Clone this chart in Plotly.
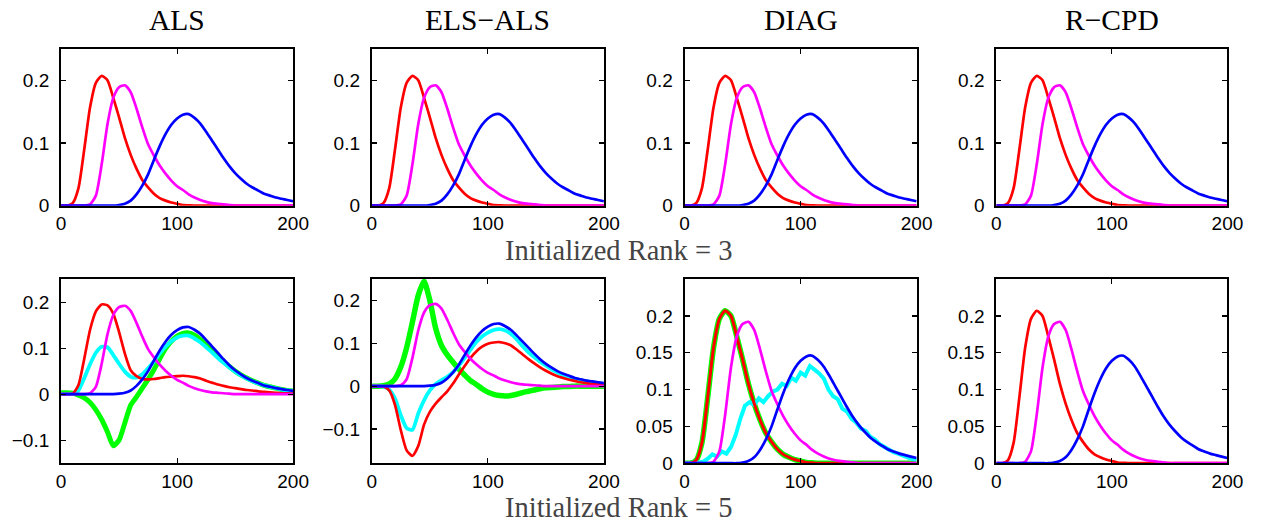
import plotly.graph_objects as go

# ---------------- data ----------------
XS = list(range(0, 201, 5))

# ground-truth profiles
RED_TRUE = [0, 0, 0.004, 0.028, 0.090, 0.157, 0.196, 0.207, 0.200, 0.172, 0.141,
            0.108, 0.081, 0.059, 0.041, 0.029, 0.019, 0.012, 0.008, 0.005, 0.003,
            0.001, 0.0005, 0, 0, 0, 0, 0, 0, 0, 0, 0, 0, 0, 0, 0, 0, 0, 0, 0, 0]
MAG_TRUE = [0, 0, 0, 0, 0, 0.002, 0.016, 0.066, 0.130, 0.172, 0.189, 0.192, 0.181,
            0.155, 0.125, 0.098, 0.080, 0.064, 0.051, 0.040, 0.031, 0.025, 0.018,
            0.013, 0.009, 0.006, 0.004, 0.003, 0.002, 0.001, 0, 0, 0, 0, 0, 0, 0,
            0, 0, 0, 0]
BLUE_TRUE = [0, 0, 0, 0, 0, 0, 0, 0, 0, 0, 0.001, 0.003, 0.008, 0.018, 0.032,
             0.050, 0.073, 0.095, 0.114, 0.129, 0.139, 0.145, 0.146, 0.140, 0.131,
             0.118, 0.104, 0.090, 0.076, 0.063, 0.052, 0.043, 0.035, 0.029, 0.024,
             0.019, 0.016, 0.013, 0.011, 0.009, 0.007]

# ALS, rank 5
RED_ALS5 = [0, 0, 0.001, 0.020, 0.077, 0.140, 0.180, 0.195, 0.193, 0.175, 0.135,
            0.088, 0.052, 0.039, 0.033, 0.032, 0.033, 0.035, 0.037, 0.038, 0.039,
            0.040, 0.039, 0.037, 0.034, 0.029, 0.025, 0.021, 0.018, 0.015, 0.013,
            0.011, 0.009, 0.008, 0.006, 0.005, 0.004, 0.003, 0.002, 0.002, 0.001]
CYAN_ALS5 = [0, 0, 0.001, 0.008, 0.035, 0.065, 0.090, 0.103, 0.102, 0.085, 0.066,
             0.049, 0.038, 0.036, 0.043, 0.056, 0.071, 0.088, 0.103, 0.115, 0.123,
             0.127, 0.127, 0.121, 0.113, 0.102, 0.091, 0.079, 0.068, 0.058, 0.049,
             0.041, 0.034, 0.028, 0.023, 0.019, 0.016, 0.013, 0.010, 0.008, 0.007]
GREEN_ALS5 = [0.003, 0.003, 0.002, -0.002, -0.008, -0.018, -0.034, -0.055, -0.082,
              -0.112, -0.100, -0.062, -0.024, -0.006, 0.013, 0.032, 0.053, 0.077,
              0.099, 0.115, 0.126, 0.132, 0.133, 0.128, 0.119, 0.107, 0.095, 0.083,
              0.071, 0.060, 0.050, 0.042, 0.035, 0.029, 0.024, 0.019, 0.016, 0.013,
              0.010, 0.008, 0.007]

# ELS-ALS, rank 5
GREEN_ELS5 = [0, 0, 0.001, 0.005, 0.017, 0.045, 0.090, 0.150, 0.212, 0.245, 0.200,
              0.135, 0.095, 0.073, 0.056, 0.040, 0.026, 0.013, 0.004, -0.006, -0.014,
              -0.019, -0.022, -0.023, -0.022, -0.019, -0.015, -0.012, -0.009, -0.006,
              -0.004, -0.003, -0.002, -0.001, -0.001, 0, 0, 0, 0, 0, 0]
CYAN_ELS5 = [0, 0, -0.001, -0.008, -0.029, -0.068, -0.098, -0.102, -0.064, -0.033,
             -0.010, 0.005, 0.014, 0.022, 0.033, 0.048, 0.066, 0.085, 0.103, 0.116,
             0.125, 0.131, 0.133, 0.130, 0.122, 0.109, 0.093, 0.079, 0.068, 0.057,
             0.048, 0.039, 0.032, 0.026, 0.021, 0.017, 0.014, 0.011, 0.009, 0.007,
             0.005]
RED_ELS5 = [0, 0, -0.001, -0.010, -0.044, -0.103, -0.150, -0.163, -0.140, -0.090,
            -0.060, -0.041, -0.026, -0.012, 0.006, 0.027, 0.047, 0.066, 0.081, 0.092,
            0.099, 0.102, 0.103, 0.100, 0.095, 0.085, 0.074, 0.063, 0.053, 0.044,
            0.036, 0.029, 0.023, 0.019, 0.015, 0.012, 0.009, 0.007, 0.005, 0.004,
            0.003]

# DIAG, rank 5: noisy cyan component
XS_NOISY = list(range(0, 201, 4))
CYAN_DIAG5 = [0, 0, 0, 0.001, 0.002, 0.006, 0.012, 0.009, 0.016, 0.013, 0.022,
              0.038, 0.060, 0.078, 0.083, 0.079, 0.088, 0.083, 0.091, 0.097, 0.100,
              0.108, 0.105, 0.116, 0.112, 0.123, 0.119, 0.132, 0.127, 0.122, 0.115,
              0.100, 0.091, 0.087, 0.074, 0.070, 0.060, 0.055, 0.047, 0.044, 0.036,
              0.032, 0.026, 0.022, 0.019, 0.015, 0.013, 0.010, 0.008, 0.006, 0.004]

METHODS = ["ALS", "ELS\u2212ALS", "DIAG", "R\u2212CPD"]
ROW_LABELS = ["Initialized Rank = 3", "Initialized Rank = 5"]
X_TICKS = [0, 100, 200]
Y_TICKS_TOP = [0, 0.1, 0.2]
Y_TEXT_TOP = ["0", "0.1", "0.2"]
Y_TICKS_NEG = [-0.1, 0, 0.1, 0.2]
Y_TEXT_NEG = ["\u22120.1", "0", "0.1", "0.2"]
Y_TICKS_FINE = [0, 0.05, 0.1, 0.15, 0.2]
Y_TEXT_FINE = ["0", "0.05", "0.1", "0.15", "0.2"]

# ---------------- styling ----------------
RED, MAG, BLUE, CYAN, GREEN = "#ff0000", "#ff00ff", "#0000ff", "#00ffff", "#00ff00"
W, H = 1268, 531
COL_PX = [(57, 293), (373, 609), (691, 927), (1008, 1243)]
ROW_PX = [(50, 210), (285, 473)]

fig = go.Figure()


def add(panel, x, y, color, width=2.7, shape="spline"):
    fig.add_trace(go.Scatter(
        x=x, y=y, mode="lines", line=dict(color=color, width=width, shape=shape,
                                          smoothing=0.6),
        xaxis="x" + ("" if panel == 1 else str(panel)),
        yaxis="y" + ("" if panel == 1 else str(panel)),
        showlegend=False, hoverinfo="skip"))


# top row: rank 3, all methods recover the true profiles
for p in range(1, 5):
    add(p, XS, RED_TRUE, RED)
    add(p, XS, MAG_TRUE, MAG)
    add(p, XS, BLUE_TRUE, BLUE)

# bottom row
add(5, XS, GREEN_ALS5, GREEN, width=5)
add(5, XS, CYAN_ALS5, CYAN, width=3.8)
add(5, XS, RED_ALS5, RED)
add(5, XS, MAG_TRUE, MAG)
add(5, XS, BLUE_TRUE, BLUE)

add(6, XS, GREEN_ELS5, GREEN, width=5.5)
add(6, XS, CYAN_ELS5, CYAN, width=3.8)
add(6, XS, RED_ELS5, RED)
add(6, XS, MAG_TRUE, MAG)
add(6, XS, BLUE_TRUE, BLUE)

add(7, XS, RED_TRUE, GREEN, width=5.5)
add(7, XS_NOISY, CYAN_DIAG5, CYAN, width=4, shape="linear")
add(7, XS, RED_TRUE, RED, width=3)
add(7, XS, MAG_TRUE, MAG)
add(7, XS, BLUE_TRUE, BLUE)

add(8, XS, RED_TRUE, RED)
add(8, XS, MAG_TRUE, MAG)
add(8, XS, BLUE_TRUE, BLUE)

tick_font = dict(family="Liberation Sans, Arial, sans-serif", size=19, color="black")
layout = dict(width=W, height=H, margin=dict(l=0, r=0, t=0, b=0),
              paper_bgcolor="white", plot_bgcolor="white", showlegend=False)

y_cfg = {1: ([0, 0.25], Y_TICKS_TOP, Y_TEXT_TOP), 2: ([0, 0.25], Y_TICKS_TOP, Y_TEXT_TOP),
         3: ([0, 0.25], Y_TICKS_TOP, Y_TEXT_TOP), 4: ([0, 0.25], Y_TICKS_TOP, Y_TEXT_TOP),
         5: ([-0.15, 0.25], Y_TICKS_NEG, Y_TEXT_NEG), 6: ([-0.18, 0.25], Y_TICKS_NEG, Y_TEXT_NEG),
         7: ([0, 0.25], Y_TICKS_FINE, Y_TEXT_FINE), 8: ([0, 0.25], Y_TICKS_FINE, Y_TEXT_FINE)}

annotations = []
for p in range(1, 9):
    r = 0 if p <= 4 else 1
    c = (p - 1) % 4
    x0, x1 = COL_PX[c]
    y0, y1 = ROW_PX[r]
    xd = [x0 / W, x1 / W]
    yd = [1 - y1 / H, 1 - y0 / H]
    sfx = "" if p == 1 else str(p)
    common = dict(showline=True, linecolor="black", linewidth=2, mirror="ticks",
                  ticks="inside", ticklen=5, tickwidth=1.2, tickcolor="black",
                  showgrid=False, zeroline=False, tickfont=tick_font, fixedrange=True)
    layout["xaxis" + sfx] = dict(domain=xd, range=[0, 200], tickvals=X_TICKS,
                                 anchor="y" + sfx, ticklabelstandoff=0, **common)
    rng, tv, tt = y_cfg[p]
    layout["yaxis" + sfx] = dict(domain=yd, range=rng, tickvals=tv, ticktext=tt,
                                 anchor="x" + sfx, ticklabelstandoff=6, **common)
    if r == 0:
        annotations.append(dict(text=METHODS[c], x=(x0 + x1) / 2 / W, y=1 - 20 / H,
                                xref="paper", yref="paper", showarrow=False,
                                xanchor="center", yanchor="middle",
                                font=dict(family="Liberation Serif, Times New Roman, serif",
                                          size=29.5, color="black")))

for label, yc in zip(ROW_LABELS, [256, 518]):
    annotations.append(dict(text=label, x=624 / W, y=1 - yc / H, xref="paper", yref="paper",
                            showarrow=False, xanchor="center", yanchor="middle",
                            font=dict(family="Liberation Serif, Times New Roman, serif",
                                      size=28.5, color="#444444")))

layout["annotations"] = annotations
fig.update_layout(**layout)
fig.write_html("out.html",
               config={"displayModeBar": False, "staticPlot": True},
               post_script="document.documentElement.style.margin='0';"
                           "document.documentElement.style.overflow='hidden';"
                           "document.body.style.margin='0';"
                           "document.body.style.padding='0';"
                           "document.body.style.overflow='hidden';")
